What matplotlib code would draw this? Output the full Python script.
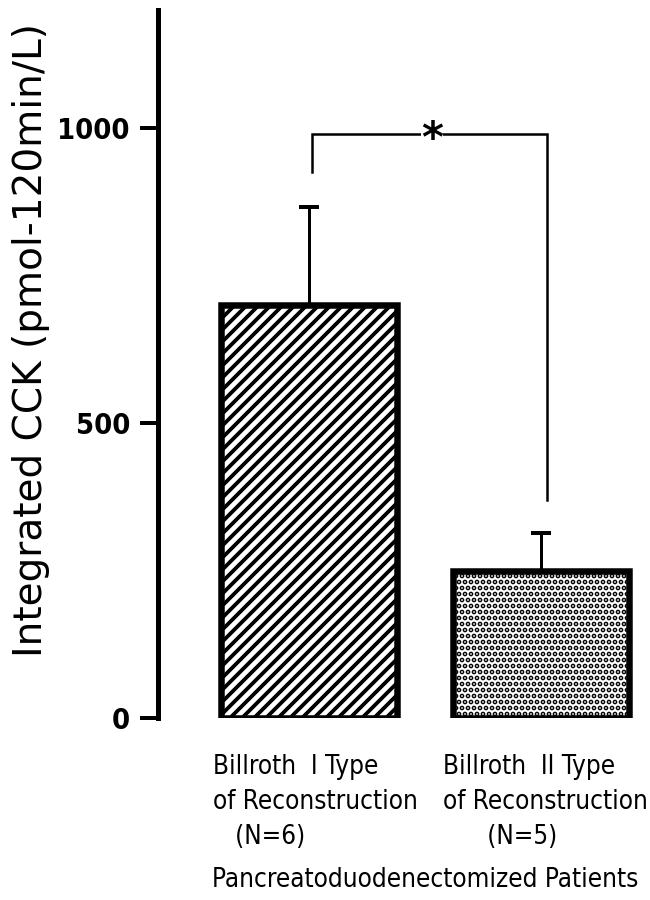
import matplotlib
matplotlib.use("Agg")
import matplotlib.pyplot as plt
import matplotlib.transforms as mtransforms
import numpy as np

# ---- data ----
categories = ["Billroth  I Type\nof Reconstruction\n   (N=6)",
              "Billroth  II Type\nof Reconstruction\n      (N=5)"]
means = [700, 250]
sem = [166, 64]
hatches = ["//", ".."]
yticks = [0, 500, 1000]
sig_bracket = [925, 990, 370]   # left end, top, right end (data units)
xlabel_text = "Pancreatoduodenectomized Patients"
ylabel_text = "Integrated CCK (pmol-120min/L)"

narrow = dict(family="DejaVu Sans", fontstretch="condensed")

W, H, DPI = 650, 900, 72
fig = plt.figure(figsize=(W / DPI, H / DPI), dpi=DPI)
ax = fig.add_axes([158 / W, 1 - 718 / H, 1 - 158 / W, (718 - 10) / H])

x = np.arange(len(means))
hatch_lw = [3.8, 3.4]
for xi, m, h, hl in zip(x, means, hatches, hatch_lw):
    with plt.rc_context({"hatch.linewidth": hl}):
        b = ax.bar(xi, m, width=0.76, facecolor="white", edgecolor="black",
                   linewidth=6.5, hatch=h, zorder=2)
    for p in b:
        if hasattr(p, "set_hatch_linewidth"):
            p.set_hatch_linewidth(hl)

ax.errorbar(x, means, yerr=[np.zeros(len(sem)), sem], fmt="none",
            ecolor="black", elinewidth=3, capsize=10, capthick=4, zorder=1)

# significance bracket
bx0, bx1 = x[0] + 0.01, x[1] + 0.026
ax.plot([bx0, bx0, bx1, bx1],
        [sig_bracket[0], sig_bracket[1], sig_bracket[1], sig_bracket[2]],
        color="black", lw=2.5, solid_joinstyle="miter", zorder=1)
ax.annotate("*", xy=((bx0 + bx1) / 2 + 0.01, sig_bracket[1]),
            xytext=(0, -6), textcoords="offset points",
            ha="center", va="center", fontsize=42, fontweight="bold",
            family="DejaVu Sans",
            bbox=dict(facecolor="white", edgecolor="none", pad=0), zorder=3)

ax.set_ylim(0, 1200)
ax.set_xlim(-0.654, 1.471)
for s in ["top", "right", "bottom"]:
    ax.spines[s].set_visible(False)
ax.spines["left"].set_linewidth(5)
ax.set_yticks(yticks)
ax.set_yticklabels([str(v) for v in yticks], fontweight="bold", fontsize=29,
                   **narrow)
ax.tick_params(axis="y", length=18, width=4, pad=10, direction="out")

ax.set_xticks(x)
ax.set_xticklabels(categories, fontsize=26, linespacing=1.45,
                   multialignment="left", va="top", **narrow)
ax.tick_params(axis="x", length=0, pad=36)
for lab, dx in zip(ax.get_xticklabels(), [6, 4]):
    shift = mtransforms.ScaledTranslation(dx / 72, 0, fig.dpi_scale_trans)
    lab.set_transform(lab.get_transform() + shift)

fig.text(425 / W, 1 - 887 / H, xlabel_text, ha="center", va="baseline",
         fontsize=26, **narrow)
fig.text(31 / W, 1 - 340 / H, ylabel_text, rotation=90, ha="center",
         va="center", fontsize=39, family="DejaVu Sans")

fig.savefig("out.png", dpi=DPI)
